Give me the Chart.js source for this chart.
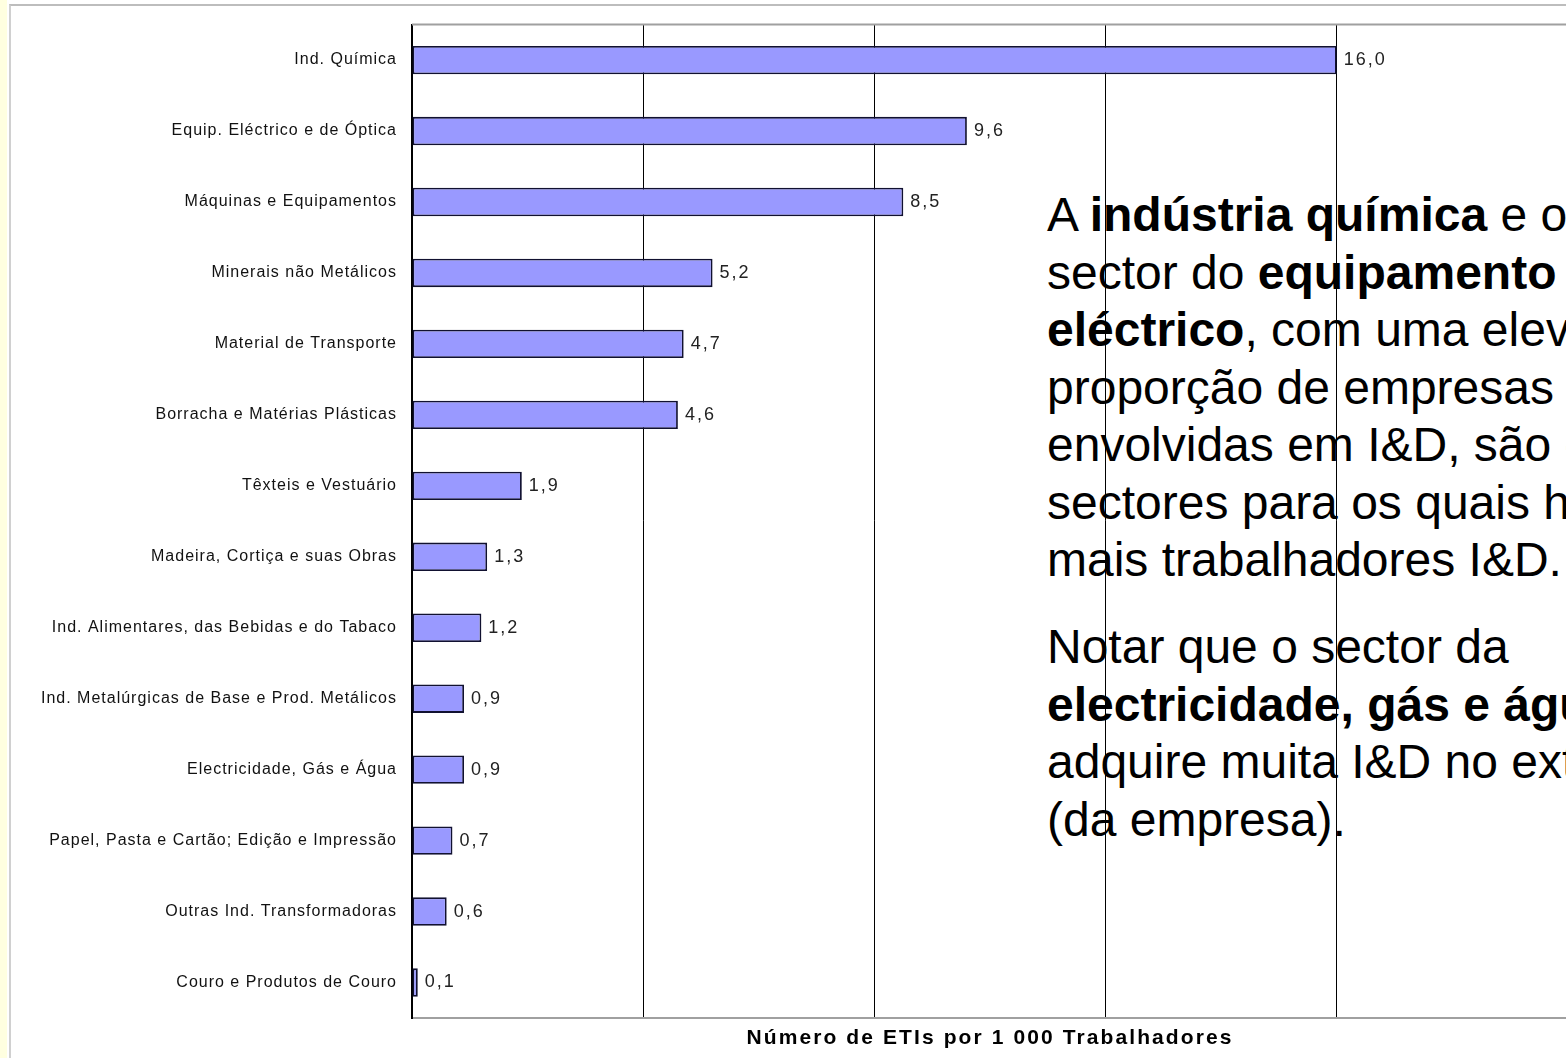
<!DOCTYPE html>
<html lang="pt">
<head>
<meta charset="utf-8">
<title>Número de ETIs por 1 000 Trabalhadores</title>
<script src="https://cdn.jsdelivr.net/npm/chart.js@4"></script>
<style>
    html, body { margin: 0; padding: 0; }
    body { width: 1566px; height: 1058px; overflow: hidden; background: #fff; position: relative; font-family: "Liberation Sans", Arial, sans-serif; }
    .faixa { position: absolute; left: 0; top: 0; width: 7px; height: 1058px; background: #ffffe0; }
    .moldura { position: absolute; left: 9px; top: 4px; right: -10px; bottom: -10px; border-top: 2px solid #bdbdbd; border-left: 2px solid #d0d0d0; }
    .texto { position: absolute; left: 1047px; top: 186px; z-index: 1; font-size: 48px; line-height: 57.5px; color: #000; white-space: nowrap; }
    .texto p { margin: 0 0 29.5px 0; }
    #grafico { position: absolute; left: 0; top: 0; z-index: 2; }
</style>
</head>
<body>
<div class="faixa"></div>
<div class="moldura"></div>
<div class="texto">
    <p>A <b>indústria química</b> e o<br>sector do <b>equipamento</b><br><b>eléctrico</b>, com uma elevada<br>proporção de empresas<br>envolvidas em I&amp;D, são os<br>sectores para os quais há<br>mais trabalhadores I&amp;D.</p>
    <p>Notar que o sector da<br><b>electricidade, gás e água</b><br>adquire muita I&amp;D no exterior<br>(da empresa).</p>
</div>
<canvas id="grafico" width="1600" height="1058" style="width:1600px;height:1058px"></canvas>

<script>
// Dados do gráfico
const categorias = [
    'Ind. Química',
    'Equip. Eléctrico e de Óptica',
    'Máquinas e Equipamentos',
    'Minerais não Metálicos',
    'Material de Transporte',
    'Borracha e Matérias Plásticas',
    'Têxteis e Vestuário',
    'Madeira, Cortiça e suas Obras',
    'Ind. Alimentares, das Bebidas e do Tabaco',
    'Ind. Metalúrgicas de Base e Prod. Metálicos',
    'Electricidade, Gás e Água',
    'Papel, Pasta e Cartão; Edição e Impressão',
    'Outras Ind. Transformadoras',
    'Couro e Produtos de Couro'
];
const valores = [16.0, 9.6, 8.5, 5.2, 4.7, 4.6, 1.9, 1.3, 1.2, 0.9, 0.9, 0.7, 0.6, 0.1];
const eixoX = [0, 4, 8, 12, 16, 20];
const tituloX = 'Número de ETIs por 1 000 Trabalhadores';

const fonte = '"Liberation Sans", Arial, sans-serif';

// Espaçamento entre letras, como no original
const espacamento = {
    id: 'espacamento',
    beforeDraw(chart) { chart.ctx.letterSpacing = '1px'; },
    afterLayout(chart) {
        // título do eixo X mais espaçado
        const s = chart.scales.x;
        if (!s._tituloEspacado) {
            const original = s.drawTitle.bind(s);
            s.drawTitle = function () {
                chart.ctx.letterSpacing = '2.1px';
                original();
                chart.ctx.letterSpacing = '1px';
            };
            s._tituloEspacado = true;
        }
    }
};

// Linha superior da área do gráfico
const bordaTopo = {
    id: 'bordaTopo',
    afterDraw(chart) {
        const { ctx, chartArea } = chart;
        ctx.save();
        ctx.strokeStyle = '#a0a0a0';
        ctx.lineWidth = 2;
        ctx.beginPath();
        ctx.moveTo(chartArea.left, chartArea.top);
        ctx.lineTo(chartArea.right, chartArea.top);
        ctx.stroke();
        ctx.restore();
    }
};

// Valores à direita das barras (vírgula decimal)
const rotulos = {
    id: 'rotulos',
    afterDatasetsDraw(chart) {
        const ctx = chart.ctx;
        const meta = chart.getDatasetMeta(0);
        ctx.save();
        ctx.letterSpacing = '2px';
        ctx.font = '18px ' + fonte;
        ctx.fillStyle = '#222';
        ctx.textAlign = 'left';
        ctx.textBaseline = 'middle';
        meta.data.forEach((bar, i) => {
            ctx.fillText(valores[i].toFixed(1).replace('.', ','), bar.x + 7, bar.y);
        });
        ctx.restore();
    }
};

new Chart(document.getElementById('grafico').getContext('2d'), {
    type: 'bar',
    data: {
        labels: categorias,
        datasets: [{
            data: valores,
            backgroundColor: '#9999ff',
            borderColor: '#111130',
            borderWidth: 1.8,
            borderSkipped: false,
            barPercentage: 0.4,
            categoryPercentage: 1
        }]
    },
    options: {
        indexAxis: 'y',
        responsive: false,
        animation: false,
        layout: { padding: { top: 22, right: 32, left: 0, bottom: 0 } },
        plugins: {
            legend: { display: false },
            tooltip: { enabled: false }
        },
        scales: {
            x: {
                min: eixoX[0],
                max: eixoX[eixoX.length - 1],
                afterBuildTicks: scale => { scale.ticks = eixoX.map(v => ({ value: v })); },
                ticks: { display: false },
                grid: { color: '#000', lineWidth: 1, drawTicks: false },
                border: { color: '#a0a0a0', width: 2 },
                title: {
                    display: true,
                    text: tituloX,
                    color: '#000',
                    font: { family: fonte, size: 21, weight: 'bold' },
                    padding: { top: 0, bottom: 7 }
                },
                afterFit: scale => { scale.height = 40; }
            },
            y: {
                grid: { display: false, drawTicks: false },
                border: { color: '#000', width: 2 },
                ticks: {
                    color: '#111',
                    font: { family: fonte, size: 16 },
                    padding: 15
                },
                afterFit: scale => { scale.width = 412; }
            }
        }
    },
    plugins: [espacamento, bordaTopo, rotulos]
});
</script>
</body>
</html>
